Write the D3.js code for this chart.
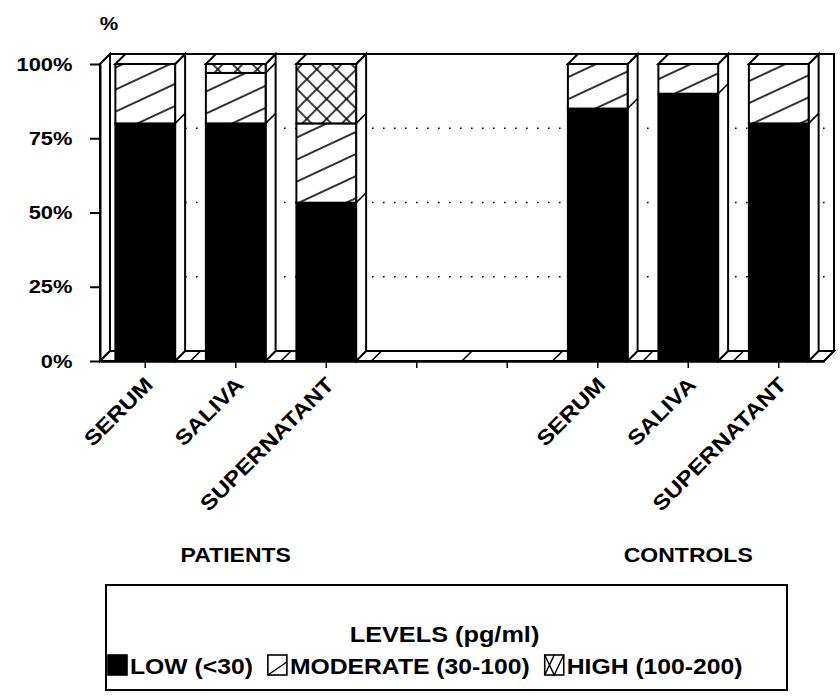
<!DOCTYPE html>
<html>
<head>
<meta charset="utf-8">
<script src="https://cdn.jsdelivr.net/npm/d3@7"></script>
<style>
  body { margin: 0; background: #fff; }
  text { font-family: "Liberation Sans", Arial, sans-serif; font-weight: bold; fill: #000; }
</style>
</head>
<body>
<svg id="chart" width="840" height="700"></svg>
<script>
// data (percent of samples per level)
const categories = ["SERUM", "SALIVA", "SUPERNATANT", "", "", "SERUM", "SALIVA", "SUPERNATANT"];
const groups = ["PATIENTS", "CONTROLS"];
const groupAt = [1, 6];
const low = [80, 80, 53.3, null, null, 85, 90, 80];
const moderate = [20, 17, 26.7, null, null, 15, 10, 20];
const high = [0, 3, 20, null, null, 0, 0, 0];
const yTicks = [0, 25, 50, 75, 100];
const levelKeys = ["low", "moderate", "high"];
const levelNames = ["LOW (<30)", "MODERATE (30-100)", "HIGH (100-200)"];

const svg = d3.select("#chart");
const SX = 1.15;      // the original lettering is a wide helvetica
const dx = 10, dy = -10; // 3d depth

const x = d3.scaleBand().domain(d3.range(categories.length)).range([100, 824]);
const y = d3.scaleLinear().domain([0, 100]).range([361, 64]);
const barW = x.bandwidth() * 0.66;

// patterns
const defs = svg.append("defs");
const pm = defs.append("pattern").attr("id", "mod").attr("patternUnits", "userSpaceOnUse")
  .attr("width", 10).attr("height", 20).attr("patternTransform", "rotate(-25)");
pm.append("rect").attr("width", 10).attr("height", 20).attr("fill", "#fff");
pm.append("line").attr("x1", 0).attr("x2", 10).attr("y1", 10).attr("y2", 10)
  .attr("stroke", "#000").attr("stroke-width", 1.6);
const ph = defs.append("pattern").attr("id", "high").attr("patternUnits", "userSpaceOnUse")
  .attr("width", 14).attr("height", 14).attr("patternTransform", "rotate(45)");
ph.append("rect").attr("width", 14).attr("height", 14).attr("fill", "#fff");
ph.append("line").attr("x1", 7).attr("x2", 7).attr("y1", 0).attr("y2", 14).attr("stroke", "#000").attr("stroke-width", 1.5);
ph.append("line").attr("x1", 0).attr("x2", 14).attr("y1", 7).attr("y2", 7).attr("stroke", "#000").attr("stroke-width", 1.5);
const fills = { low: "#000", moderate: "url(#mod)", high: "url(#high)" };

function wideText(sel, px, py, str, size, anchor, rot) {
  const g = sel.append("g")
    .attr("transform", `translate(${px},${py})` + (rot ? ` rotate(${rot})` : "") + ` scale(${SX},1)`);
  return g.append("text").attr("text-anchor", anchor).attr("font-size", size).text(str);
}

const x0 = x.range()[0], x1 = x.range()[1];
const line = d3.line();
const poly = pts => line(pts) + "Z";

// back wall
svg.append("path")
  .attr("d", poly([[x0 + dx, y(100) + dy], [x1 + dx, y(100) + dy], [x1 + dx, y(0) + dy], [x0 + dx, y(0) + dy]]))
  .attr("fill", "#fff").attr("stroke", "#000").attr("stroke-width", 2);

// dotted grid on back wall
svg.selectAll(".grid").data(yTicks.filter(t => t > 0 && t < 100)).enter().append("line")
  .attr("x1", x0 + dx - 2).attr("x2", x1 + dx)
  .attr("y1", d => y(d) + dy).attr("y2", d => y(d) + dy)
  .attr("stroke", "#000").attr("stroke-width", 1.6).attr("stroke-dasharray", "1.6,9.4");

// left wall
svg.append("path")
  .attr("d", poly([[x0, y(0)], [x0, y(100)], [x0 + dx, y(100) + dy], [x0 + dx, y(0) + dy]]))
  .attr("fill", "#fff").attr("stroke", "#000").attr("stroke-width", 2);

// floor
svg.append("path")
  .attr("d", poly([[x0, y(0)], [x1, y(0)], [x1 + dx, y(0) + dy], [x0 + dx, y(0) + dy]]))
  .attr("fill", "#fff").attr("stroke", "#000").attr("stroke-width", 2);
const bounds = d3.range(categories.length + 1).map(i => i < categories.length ? x(i) : x1);
svg.selectAll(".floorTick").data(bounds).enter().append("line")
  .attr("x1", d => d).attr("y1", y(0)).attr("x2", d => d + dx).attr("y2", y(0) + dy)
  .attr("stroke", "#000").attr("stroke-width", 1.6);

// stacked bars
const rows = categories.map((c, i) => ({ i, low: low[i], moderate: moderate[i], high: high[i] }))
  .filter(r => r.low !== null);
const stack = d3.stack().keys(levelKeys)(rows);

const bars = svg.selectAll(".bar").data(rows).enter().append("g").attr("class", "bar");
bars.each(function (r) {
  const g = d3.select(this);
  const bl = x(r.i) + (x.bandwidth() - barW) / 2, br = bl + barW;
  const total = r.low + r.moderate + r.high;
  // right side face
  g.append("path")
    .attr("d", poly([[br, y(0)], [br, y(total)], [br + dx, y(total) + dy], [br + dx, y(0) + dy]]))
    .attr("fill", "#fff").attr("stroke", "#000").attr("stroke-width", 2);
  // top face
  g.append("path")
    .attr("d", poly([[bl, y(total)], [bl + dx, y(total) + dy], [br + dx, y(total) + dy], [br, y(total)]]))
    .attr("fill", "#fff").attr("stroke", "#000").attr("stroke-width", 2);
  // front segments
  stack.forEach(s => {
    const seg = s.find(d => d.data.i === r.i);
    if (seg[1] - seg[0] <= 0) return;
    g.append("rect")
      .attr("x", bl).attr("width", barW)
      .attr("y", y(seg[1])).attr("height", y(seg[0]) - y(seg[1]))
      .attr("fill", fills[s.key]).attr("stroke", "#000").attr("stroke-width", 2);
    if (seg[0] > 0) {
      g.append("line").attr("x1", br).attr("y1", y(seg[0])).attr("x2", br + dx).attr("y2", y(seg[0]) + dy)
        .attr("stroke", "#000").attr("stroke-width", 1.6);
    }
  });
});

// axes
const yAxis = svg.append("g").attr("transform", `translate(${x0},0)`)
  .call(d3.axisLeft(y).tickValues(yTicks).tickSize(10).tickSizeOuter(0).tickPadding(14).tickFormat(d => d + "%"));
yAxis.select(".domain").attr("stroke-width", 2);
yAxis.selectAll(".tick line").attr("stroke-width", 2);
yAxis.selectAll("text").attr("font-size", 19).attr("font-family", null)
  .attr("transform", `scale(${SX},1)`);

const xAxis = svg.append("g").attr("transform", `translate(0,${y(0)})`)
  .call(d3.axisBottom(x).tickSize(7).tickSizeOuter(0).tickFormat(""));
xAxis.select(".domain").attr("stroke-width", 2.5);
xAxis.selectAll(".tick line").attr("stroke-width", 1.5);

// category labels
categories.forEach((c, i) => {
  if (!c) return;
  wideText(svg, x(i) + x.bandwidth() / 2 + 9, 386, c, 21, "end", -45);
});

// axis unit
wideText(svg, 109, 30, "%", 18, "middle");

// group labels
groups.forEach((g, k) => wideText(svg, x(groupAt[k]) + x.bandwidth() / 2, 562, g, 20, "middle"));

// legend
const lg = svg.append("g");
const box = { left: 106, right: 787, top: 585, bottom: 690 };
lg.append("rect").attr("x", box.left).attr("y", box.top)
  .attr("width", box.right - box.left).attr("height", box.bottom - box.top)
  .attr("fill", "#fff").attr("stroke", "#000").attr("stroke-width", 2);
wideText(lg, (box.left + box.right) / 2 - 2, 642, "LEVELS (pg/ml)", 22, "middle");

let cx = box.left + 2;
const sw = 19, sh = 20, sy = 655;
levelKeys.forEach((k, j) => {
  lg.append("rect").attr("x", cx).attr("y", sy).attr("width", sw).attr("height", sh)
    .attr("fill", k === "low" ? "#000" : "#fff").attr("stroke", "#000").attr("stroke-width", 1.6);
  if (k === "moderate") {
    lg.append("line").attr("x1", cx).attr("y1", sy + sh).attr("x2", cx + sw).attr("y2", sy + sh * 0.35)
      .attr("stroke", "#000").attr("stroke-width", 1.5);
  }
  if (k === "high") {
    lg.append("path")
      .attr("d", line([[cx, sy], [cx + sw / 2, sy + sh], [cx + sw, sy]]) + line([[cx, sy + sh], [cx + sw / 2, sy]]))
      .attr("fill", "none").attr("stroke", "#000").attr("stroke-width", 1.5);
  }
  const t = wideText(lg, cx + 22, 674, levelNames[j], 21.5, "start");
  cx += 22 + t.node().getComputedTextLength() * SX + 15;
});
</script>
</body>
</html>
